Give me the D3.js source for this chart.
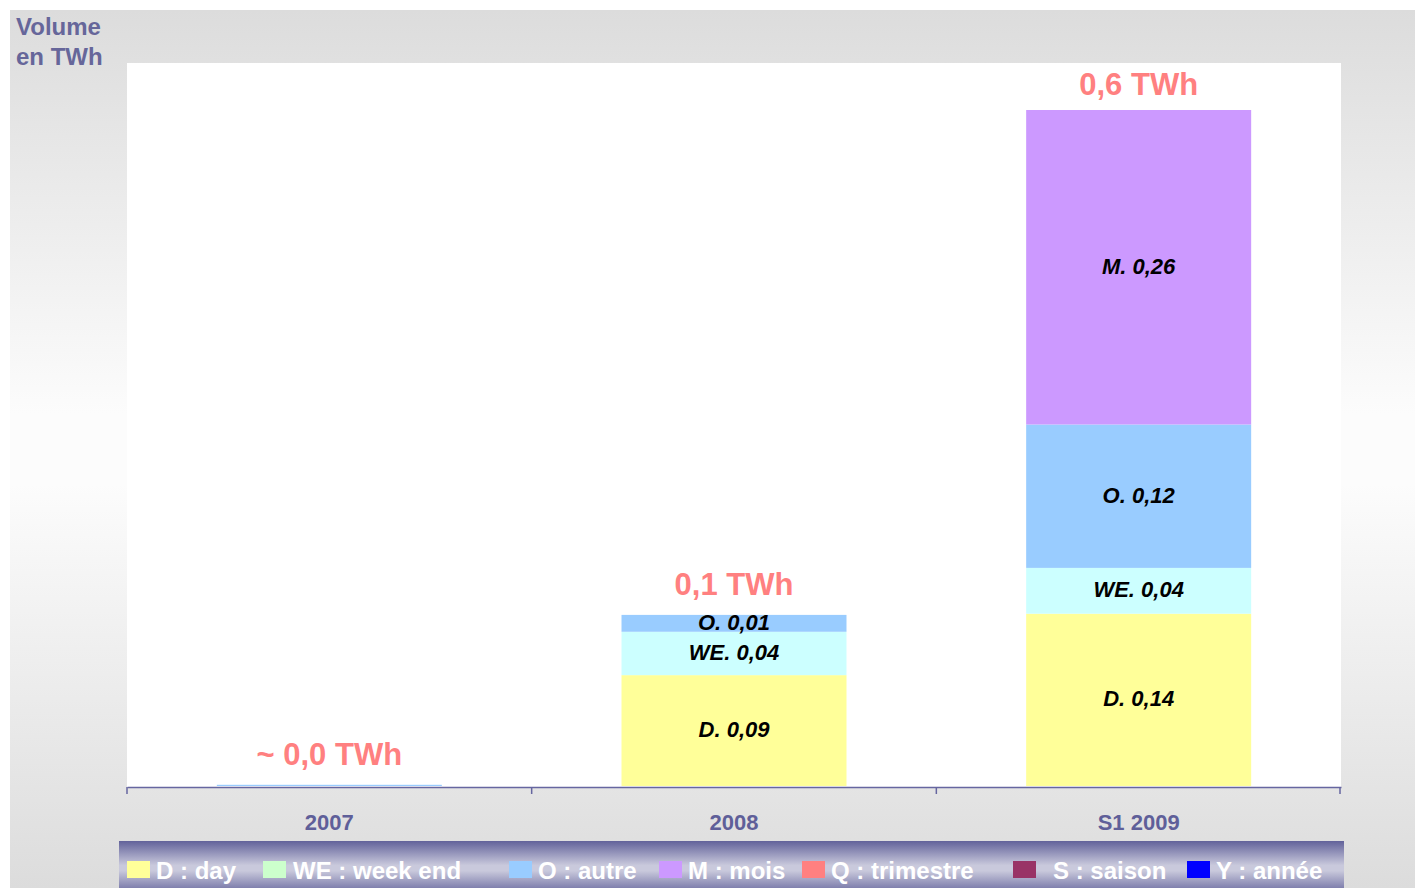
<!DOCTYPE html>
<html>
<head>
<meta charset="utf-8">
<script src="https://cdn.jsdelivr.net/npm/d3@7"></script>
<style>
  body { margin: 0; background: #fff; }
  svg { display: block; font-family: "Liberation Sans", Arial, sans-serif; }
</style>
</head>
<body>
<svg width="1415" height="888"></svg>
<script>
// data
const periods = ['2007', '2008', 'S1 2009'];
const dayVals = [0, 0.092, 0.143];
const weekendVals = [0, 0.036, 0.038];
const autreVals = [0.001, 0.014, 0.119];
const moisVals = [0, 0, 0.261];
const totalLabels = ['~ 0,0 TWh', '0,1 TWh', '0,6 TWh'];

const segKeys = ['D', 'WE', 'O', 'M'];
const segColors = ['#ffff99', '#ccffff', '#99ccff', '#cc99ff'];

const legendNames = ['D : day', 'WE : week end', 'O : autre', 'M : mois', 'Q : trimestre', 'S : saison', 'Y : année'];
const legendColors = ['#ffff99', '#ccffcc', '#99ccff', '#cc99ff', '#ff8080', '#993366', '#0000ff'];

const rows = periods.map((p, i) => ({
    period: p, D: dayVals[i], WE: weekendVals[i], O: autreVals[i], M: moisVals[i]
}));

const svg = d3.select('svg');
const defs = svg.append('defs');

// background panel gradient
const bg = defs.append('linearGradient').attr('id', 'bgGrad')
    .attr('x1', 0).attr('y1', 0).attr('x2', 0).attr('y2', 1);
bg.append('stop').attr('offset', '0%').attr('stop-color', '#dcdcdc');
bg.append('stop').attr('offset', '46%').attr('stop-color', '#fcfcfc');
bg.append('stop').attr('offset', '54%').attr('stop-color', '#fcfcfc');
bg.append('stop').attr('offset', '100%').attr('stop-color', '#dcdcdc');

const lg = defs.append('linearGradient').attr('id', 'legGrad')
    .attr('x1', 0).attr('y1', 0).attr('x2', 0).attr('y2', 1);
lg.append('stop').attr('offset', '0%').attr('stop-color', '#62629a');
lg.append('stop').attr('offset', '45%').attr('stop-color', '#c9c9dc');
lg.append('stop').attr('offset', '55%').attr('stop-color', '#c9c9dc');
lg.append('stop').attr('offset', '100%').attr('stop-color', '#62629a');

svg.append('rect')
    .attr('x', 10).attr('y', 10).attr('width', 1405).attr('height', 878)
    .attr('fill', 'url(#bgGrad)');

const plotLeft = 127, plotRight = 1341, plotTop = 63, plotBottom = 786;

svg.append('rect')
    .attr('x', plotLeft).attr('y', plotTop)
    .attr('width', plotRight - plotLeft).attr('height', plotBottom - plotTop + 1)
    .attr('fill', '#fff');

const xScale = d3.scaleBand().domain(periods).range([plotLeft, plotRight])
    .paddingInner(0.444).paddingOuter(0.222);
const yScale = d3.scaleLinear().domain([0, 0.6]).range([plotBottom, plotTop]);

const stacked = d3.stack().keys(segKeys)(rows);
const fmt = v => d3.format('.2f')(v).replace('.', ',');

const layers = svg.selectAll('g.layer')
    .data(stacked)
    .enter()
    .append('g')
    .attr('class', 'layer')
    .attr('fill', (d, i) => segColors[i]);

layers.selectAll('rect')
    .data(d => d)
    .enter()
    .append('rect')
    .attr('x', d => xScale(d.data.period))
    .attr('width', xScale.bandwidth())
    .attr('y', d => yScale(d[1]))
    .attr('height', d => yScale(d[0]) - yScale(d[1]));

// segment labels
stacked.forEach(layer => {
    svg.selectAll(null)
        .data(layer.filter(d => d[1] - d[0] > 0.005))
        .enter()
        .append('text')
        .attr('x', d => xScale(d.data.period) + xScale.bandwidth() / 2)
        .attr('y', d => yScale((d[0] + d[1]) / 2))
        .attr('dy', '0.3em')
        .attr('text-anchor', 'middle')
        .style('font-size', '22px')
        .style('font-weight', 'bold')
        .style('font-style', 'italic')
        .attr('fill', '#000')
        .text(d => `${layer.key}. ${fmt(d[1] - d[0])}`);
});

// totals (kept inside the plot area at the top)
svg.selectAll(null)
    .data(rows)
    .enter()
    .append('text')
    .attr('x', d => xScale(d.period) + xScale.bandwidth() / 2)
    .attr('y', d => Math.max(yScale(d.D + d.WE + d.O + d.M) - 20, plotTop + 32))
    .attr('text-anchor', 'middle')
    .style('font-size', '31px')
    .style('font-weight', 'bold')
    .attr('fill', '#ff8080')
    .text((d, i) => totalLabels[i]);

// x axis
const axis = svg.append('g')
    .attr('transform', `translate(0, ${plotBottom + 1})`)
    .call(d3.axisBottom(xScale).tickSize(0).tickPadding(27));
axis.select('.domain').attr('stroke', '#6666a0').attr('stroke-width', 1.5);
axis.selectAll('text')
    .style('font-size', '22px')
    .style('font-weight', 'bold')
    .style('font-family', '"Liberation Sans", Arial, sans-serif')
    .attr('fill', '#5f5f99');

const boundaries = periods.map(p => xScale(p) - xScale.step() * xScale.paddingOuter())
    .concat([plotRight - 1]);
axis.selectAll('line.bound')
    .data(boundaries)
    .enter()
    .append('line')
    .attr('class', 'bound')
    .attr('x1', d => d).attr('x2', d => d)
    .attr('y1', 0).attr('y2', 7)
    .attr('stroke', '#6666a0').attr('stroke-width', 1.5);

// y title
svg.append('text')
    .attr('x', 16).attr('y', 35)
    .style('font-size', '24px').style('font-weight', 'bold')
    .attr('fill', '#66669a')
    .text('Volume');
svg.append('text')
    .attr('x', 16).attr('y', 65)
    .style('font-size', '24px').style('font-weight', 'bold')
    .attr('fill', '#66669a')
    .text('en TWh');

// legend band
svg.append('rect')
    .attr('x', 119).attr('y', 841).attr('width', 1225).attr('height', 54)
    .attr('fill', 'url(#legGrad)');

const swatchX = [127, 263, 509, 659, 802, 1013, 1187];
const textX = [156, 293, 538, 688, 831, 1053, 1216];

const legend = svg.selectAll('g.leg')
    .data(legendNames)
    .enter()
    .append('g')
    .attr('class', 'leg');
legend.append('rect')
    .attr('x', (d, i) => swatchX[i]).attr('y', 861)
    .attr('width', 23).attr('height', 17)
    .attr('fill', (d, i) => legendColors[i]);
legend.append('text')
    .attr('x', (d, i) => textX[i]).attr('y', 879)
    .style('font-size', '24px').style('font-weight', 'bold')
    .attr('fill', '#fff')
    .text(d => d);
</script>
</body>
</html>
